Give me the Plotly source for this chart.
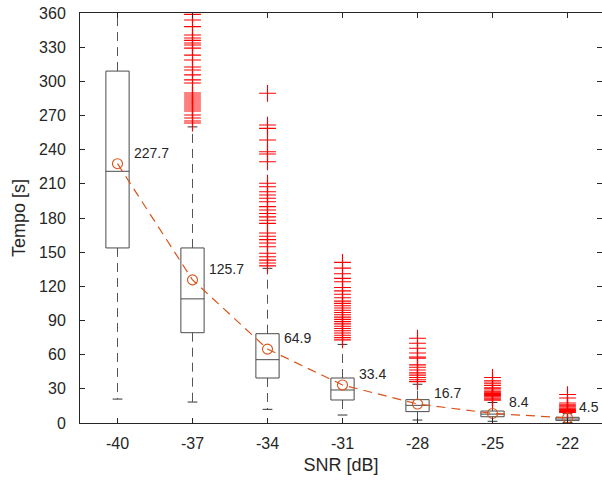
import plotly.graph_objects as go

snr = [-40, -37, -34, -31, -28, -25, -22]
q1 = [153.7, 79.3, 39.5, 20.2, 10.0, 5.5, 2.3]
med = [221.0, 109.0, 55.6, 29.0, 15.5, 7.8, 3.5]
q3 = [309.0, 153.7, 78.4, 39.5, 20.5, 10.5, 5.0]
wlo = [21.0, 18.4, 12.0, 7.0, 2.6, 1.5, 0.5]
whi = [420.0, 260.0, 135.8, 69.0, 34.0, 18.0, 8.5]
means = [227.7, 125.7, 64.9, 33.4, 16.7, 8.4, 4.5]

out_m37 = [358.8, 353.8, 348.0, 340.7, 338.0, 336.0, 333.6, 331.9, 329.2, 323.0, 318.7,
           312.6, 310.0, 305.7, 301.3, 298.5, 289.7, 288.0, 286.2, 284.5, 282.7, 281.0,
           279.2, 277.4, 275.7, 274.0, 270.4, 267.8, 265.2, 263.4]
out_m34 = [289.5, 261.6, 258.7, 248.5, 238.2, 236.2, 229.4, 210.5, 207.5, 203.0, 200.2,
           197.3, 194.3, 190.0, 187.0, 184.0, 181.0, 178.0, 175.3, 166.8, 164.0, 161.0,
           158.0, 154.8, 149.0, 146.0, 143.0, 140.5, 138.0]
out_m31 = [141.0, 136.0, 131.0, 127.0, 124.0, 119.0, 116.0, 113.0, 110.0, 107.0, 105.0,
           103.0, 101.0, 99.0, 97.0, 95.0, 93.0, 91.0, 89.0, 87.0, 85.0, 83.0, 81.0,
           79.0, 77.0, 75.0, 73.0]
out_m28 = [74.4, 70.0, 65.6, 61.4, 58.0, 57.0, 51.0, 49.0, 46.5, 44.0, 42.0, 40.0,
           38.0, 36.3]
out_m25 = [40.0, 37.0, 35.0, 33.0, 31.0, 30.0, 28.0, 27.0, 26.0, 25.0, 24.0, 23.0,
           22.0, 21.0, 20.0]
out_m22 = [25.0, 22.0, 17.5, 16.0, 15.0, 14.0, 13.0, 12.0, 11.0, 10.0, 9.2]
outliers = [[], out_m37, out_m34, out_m31, out_m28, out_m25, out_m22]

pos = list(range(1, len(snr) + 1))
HW = 0.155   # half box width
CW = 0.065   # half cap width

fig = go.Figure()

bx, by = [], []
mx, my = [], []
wx, wy = [], []
cx, cy = [], []
for p, a, m, b, lo, hi in zip(pos, q1, med, q3, wlo, whi):
    bx += [p - HW, p + HW, p + HW, p - HW, p - HW, None]
    by += [a, a, b, b, a, None]
    mx += [p - HW, p + HW, None]
    my += [m, m, None]
    wx += [p, p, None, p, p, None]
    wy += [b, hi, None, a, lo, None]
    cx += [p - CW, p + CW, None, p - CW, p + CW, None]
    cy += [hi, hi, None, lo, lo, None]

fig.add_trace(go.Scatter(x=wx, y=wy, mode="lines",
                         line=dict(color="#555555", width=1, dash="9px,6px"),
                         hoverinfo="skip", showlegend=False))
fig.add_trace(go.Scatter(x=cx, y=cy, mode="lines",
                         line=dict(color="#333333", width=1),
                         hoverinfo="skip", showlegend=False))
fig.add_trace(go.Scatter(x=bx, y=by, mode="lines",
                         line=dict(color="#4a4a4a", width=1),
                         hoverinfo="skip", showlegend=False))
fig.add_trace(go.Scatter(x=mx, y=my, mode="lines",
                         line=dict(color="#4a4a4a", width=1),
                         hoverinfo="skip", showlegend=False))

ox, oy = [], []
for p, vals in zip(pos, outliers):
    ox += [p] * len(vals)
    oy += vals
fig.add_trace(go.Scatter(x=ox, y=oy, mode="markers",
                         marker=dict(symbol="cross-thin", size=12,
                                     line=dict(color="#ff0000", width=1.1)),
                         showlegend=False))

fig.add_trace(go.Scatter(x=pos, y=means, mode="lines+markers",
                         line=dict(color="#D95319", width=1.2, dash="9px,6px"),
                         marker=dict(symbol="circle-open", size=10,
                                     line=dict(color="#D95319", width=1.1)),
                         showlegend=False))

for i, (p, m) in enumerate(zip(pos, means)):
    off = 0.12 if i == len(pos) - 1 else 0.19
    fig.add_annotation(x=p + off, y=m, text=f"{m:.1f}", showarrow=False,
                       xanchor="left", yanchor="middle", yshift=11,
                       font=dict(size=14, color="#262626"))

fig.update_layout(
    width=602, height=484,
    margin=dict(l=80, r=0, t=13, b=61),
    paper_bgcolor="white", plot_bgcolor="white",
    font=dict(family="Liberation Sans, Arial, sans-serif", size=16, color="#262626"),
    xaxis=dict(range=[0.5, 7.46], tickmode="array", tickvals=pos,
               ticktext=[str(s) for s in snr], showline=True, linecolor="#262626",
               linewidth=1, mirror="ticks", ticks="inside", ticklen=5,
               tickcolor="#262626", showgrid=False, zeroline=False,
               ticklabelstandoff=6, automargin=False, ticklabeloverflow="allow",
               title=dict(text="SNR [dB]", font=dict(size=18), standoff=7)),
    yaxis=dict(range=[0, 360], tickvals=list(range(0, 361, 30)), showline=True,
               linecolor="#262626", linewidth=1, ticks="inside", ticklen=5,
               tickcolor="#262626", showgrid=False, zeroline=False,
               ticklabelstandoff=10, automargin=False, ticklabeloverflow="allow",
               title=dict(text="Tempo [s]", font=dict(size=18), standoff=8)),
    yaxis2=dict(range=[0, 360], tickvals=list(range(0, 361, 30)), overlaying="y",
                side="right", showline=False, ticks="inside", ticklen=5,
                tickcolor="#262626", showticklabels=False, showgrid=False,
                zeroline=False, automargin=False),
)
fig.add_trace(go.Scatter(x=[None], y=[None], yaxis="y2", showlegend=False))

fig.write_html("out.html", config={"displayModeBar": False},
               post_script="document.body.style.margin='0';document.body.style.overflow='hidden';")
